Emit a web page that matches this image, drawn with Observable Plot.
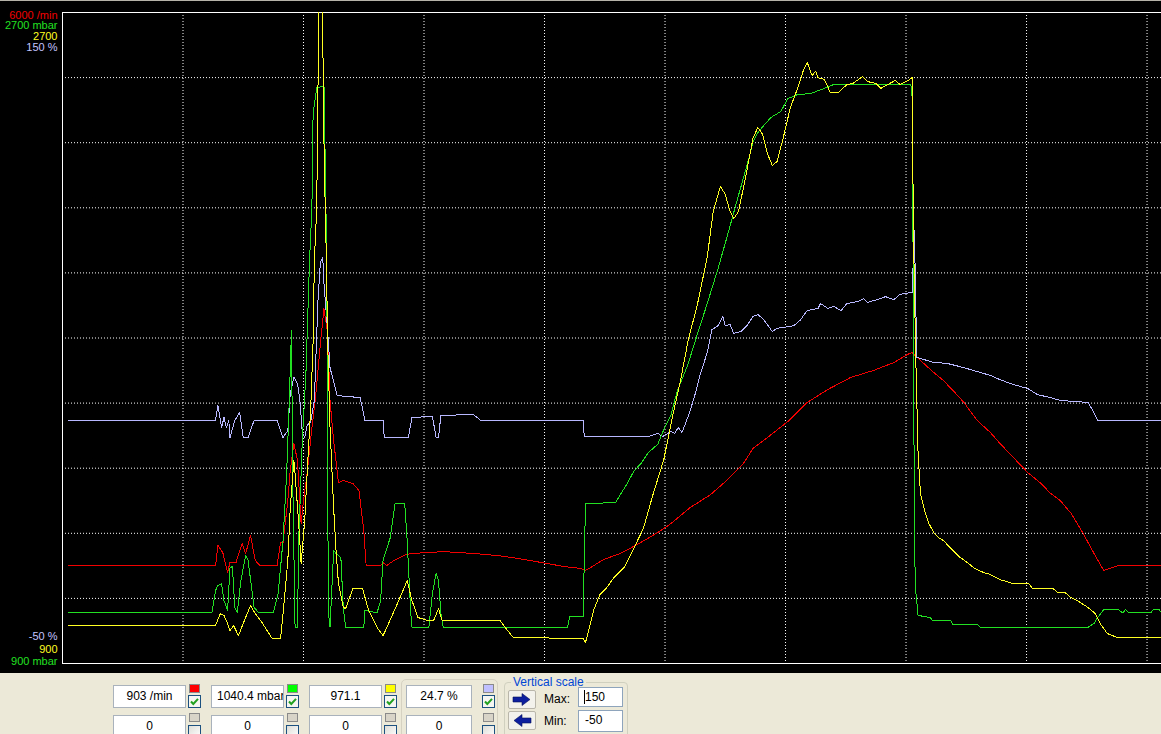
<!DOCTYPE html>
<html><head><meta charset="utf-8">
<script src="https://cdn.jsdelivr.net/npm/d3@7"></script>
<script src="https://cdn.jsdelivr.net/npm/@observablehq/plot@0.6"></script>
<style>
html,body{margin:0;padding:0;background:#ece9d8;width:1161px;height:734px;overflow:hidden;font-family:"Liberation Sans",Arial,sans-serif;}
#chart{position:absolute;left:0;top:0;width:1161px;height:673px;background:#000;}
#chart svg{display:block}
#topline{position:absolute;left:0;top:0;width:1161px;height:1px;background:#b5b2a8;}
.abs{position:absolute;box-sizing:border-box;}
.vbox{position:absolute;box-sizing:border-box;width:73px;height:23px;background:#fff;border:1px solid #a9b2bc;font-size:12px;line-height:21px;text-align:center;white-space:nowrap;overflow:hidden;color:#000;}
.sq{position:absolute;box-sizing:border-box;width:11px;height:9px;border:1px solid #8a8a8a;}
.cb{position:absolute;width:13px;height:13px;}
.lbl{position:absolute;font-size:12px;line-height:14px;color:#000;}
.btn{position:absolute;box-sizing:border-box;width:28px;height:19px;background:#f3f2ec;border:1px solid #b9b6aa;border-radius:2px;}
.inp{position:absolute;box-sizing:border-box;width:45px;background:#fff;border:1px solid #8ea4bc;font-size:12px;line-height:18px;padding-left:6px;color:#000;}
</style>
</head><body>
<div id="chart"></div>
<div id="topline"></div>
<div id="panel"></div>
<script>
// Time in seconds (one grid division = 10 s); values in each channel's own units
const xGrid = [10,20,30,40,50,60,70,80,90];
const yGridFractions = [0.1,0.2,0.3,0.4,0.5,0.6,0.7,0.8,0.9];

const topLabels = ["6000 /min","2700 mbar","2700","150 %"];
const bottomLabels = ["-50 %","900","900 mbar"];

// Engine speed, /min (scale 0..6000)
const rpm = [[0.5,900],[12.7,900],[12.9,1088],[13.3,1023],[13.7,839],[13.9,931],[14.4,931],[14.9,1106],[15.2,1014],[15.6,1180],[16.0,949],[16.4,900],[17.8,900],[18.1,1115],[18.3,1115],[18.7,1502],[18.9,1779],[19.2,2028],[19.5,1871],[19.8,1290],[20.0,1502],[20.3,1751],[20.7,2175],[21.0,2452],[21.4,2949],[21.7,3272],[22.0,3042],[22.2,2424],[22.5,2055],[22.9,1668],[23.3,1687],[24.1,1659],[24.6,1595],[25.0,1226],[25.2,900],[26.4,900],[26.6,931],[26.9,903],[27.5,949],[28.3,995],[28.9,1014],[30.5,1023],[31.6,1032],[32.8,1023],[34.1,1014],[36.1,995],[37.8,968],[38.8,949],[40.2,922],[41.6,894],[43.0,876],[43.4,857],[44.1,903],[44.9,959],[46.3,1014],[47.7,1097],[49.4,1207],[50.5,1290],[52.1,1438],[53.8,1558],[55.2,1696],[56.5,1843],[57.3,1982],[58.5,2083],[60.2,2231],[61.8,2406],[63.5,2525],[65.4,2636],[67.3,2701],[69.0,2774],[70.1,2848],[70.5,2866],[71.2,2793],[72.3,2682],[73.1,2608],[73.9,2516],[74.8,2406],[75.9,2240],[77.0,2129],[77.8,2028],[78.9,1899],[80.1,1760],[81.2,1659],[82.0,1567],[82.8,1502],[83.7,1383],[84.7,1198],[85.6,1014],[86.4,857],[87.6,903],[91.2,903]];

// Boost pressure, mbar (scale 900..2700)
const boost = [[0.5,1040],[12.4,1040],[12.7,1102],[12.9,1116],[13.2,1121],[13.4,1074],[13.7,1047],[13.9,1165],[14.1,1168],[14.3,1055],[14.5,1040],[14.8,1129],[15.2,1199],[15.4,1185],[15.9,1055],[16.3,1040],[17.5,1040],[17.9,1094],[18.3,1240],[18.6,1425],[18.8,1608],[19.0,1821],[19.1,1425],[19.3,1000],[19.5,1000],[19.6,1240],[19.9,1517],[20.2,1702],[20.5,2014],[20.7,2161],[20.75,2338],[20.8,2421],[21.1,2493],[21.7,2495],[21.75,2465],[21.8,2255],[21.9,2089],[22.0,1627],[22.05,1047],[22.2,1000],[22.5,1212],[22.7,1204],[23.1,1193],[23.3,1055],[23.5,1000],[25.0,1000],[25.1,1047],[26.1,1040],[26.4,1074],[26.6,1185],[27.2,1248],[27.6,1342],[28.4,1342],[28.6,1240],[28.9,1040],[29.0,1000],[30.4,1000],[30.7,1094],[31.0,1149],[31.2,1129],[31.4,1040],[31.6,1000],[41.9,1000],[42.1,1030],[43.2,1030],[43.4,1342],[45.9,1345],[46.3,1367],[46.9,1400],[47.4,1431],[48.0,1453],[48.6,1483],[49.4,1506],[49.9,1547],[50.5,1588],[51.0,1652],[51.9,1727],[52.7,1812],[53.5,1895],[54.4,1992],[55.2,2086],[56.0,2183],[56.8,2277],[57.3,2341],[57.7,2368],[58.2,2388],[58.8,2410],[59.6,2426],[60.2,2462],[61.0,2473],[62.1,2476],[63.2,2490],[64.0,2501],[70.4,2501],[70.5,2468],[70.6,1959],[70.7,1221],[70.8,1102],[71.0,1033],[72.0,1027],[72.2,1019],[73.7,1019],[73.9,1008],[75.9,1008],[76.2,1000],[85.1,1000],[85.6,1011],[85.9,1027],[86.4,1049],[87.6,1049],[88.0,1040],[88.2,1049],[88.5,1040],[90.3,1040],[90.5,1049],[91.0,1049],[91.2,1040]];

// Yellow channel (scale 900..2700)
const chan3 = [[0.5,1005],[12.7,1005],[13.1,1038],[13.4,1033],[13.7,1011],[13.9,991],[14.2,1005],[14.6,977],[15.0,1011],[15.6,1060],[16.0,1038],[16.6,1011],[17.4,969],[18.1,969],[18.3,1038],[18.7,1185],[18.9,1331],[19.2,1461],[19.3,1425],[19.6,1287],[19.8,1177],[20.1,1295],[20.3,1425],[20.6,1608],[20.8,1793],[20.9,2014],[21.1,2161],[21.15,2338],[21.2,2493],[21.25,2614],[21.3,2760],[21.5,2760],[21.6,2614],[21.65,2512],[21.7,2338],[21.75,2255],[21.8,2161],[21.9,2014],[22.0,1793],[22.2,1553],[22.5,1331],[22.7,1212],[22.9,1121],[23.3,1055],[23.5,1052],[24.1,1107],[24.9,1107],[25.4,1047],[26.1,1000],[26.6,977],[26.8,991],[27.8,1066],[28.6,1129],[29.0,1074],[29.5,1027],[30.3,1019],[30.8,1019],[31.2,1052],[31.5,1019],[36.3,1019],[36.8,997],[37.4,972],[43.2,969],[43.4,958],[43.7,997],[44.1,1049],[44.6,1091],[45.1,1107],[45.7,1135],[46.6,1165],[47.4,1218],[48.2,1273],[49.0,1367],[49.9,1464],[50.6,1580],[51.3,1685],[51.9,1790],[52.7,1895],[53.5,2023],[54.0,2150],[54.6,2219],[55.0,2197],[55.4,2150],[55.7,2130],[56.1,2150],[56.7,2247],[57.3,2352],[57.7,2382],[58.1,2363],[58.5,2310],[58.9,2277],[59.3,2288],[59.8,2352],[60.4,2437],[61.0,2490],[61.5,2542],[61.8,2562],[62.2,2526],[62.5,2537],[62.7,2520],[63.2,2515],[63.5,2495],[63.7,2479],[64.4,2479],[65.1,2501],[65.6,2504],[66.4,2523],[66.8,2509],[67.5,2504],[67.9,2490],[68.5,2501],[69.1,2512],[69.5,2501],[70.2,2512],[70.5,2520],[70.55,2382],[70.6,2119],[70.8,1757],[71.0,1481],[71.2,1370],[71.6,1315],[71.9,1287],[72.3,1262],[72.7,1248],[73.1,1240],[73.5,1226],[73.9,1212],[74.5,1193],[75.1,1179],[75.6,1165],[76.4,1152],[77.0,1146],[77.8,1132],[78.9,1121],[80.2,1121],[80.5,1107],[82.2,1107],[82.6,1096],[83.2,1096],[83.7,1082],[84.2,1074],[85.1,1055],[85.7,1038],[86.1,1011],[86.7,983],[87.6,971],[91.2,971]];

// Percent channel (scale -50..150 %)
const pct = [[0.5,24.7],[12.7,24.7],[12.9,29.3],[13.2,22.5],[13.4,25.6],[13.6,22.5],[13.8,24.7],[13.9,19.4],[14.3,24.7],[14.7,27.1],[15.0,19.4],[15.4,19.4],[15.9,24.7],[17.8,24.7],[18.3,19.4],[18.7,21.6],[18.9,32.9],[19.2,37.9],[19.5,36.0],[19.7,30.8],[19.9,21.0],[20.1,19.4],[20.3,23.1],[20.6,24.3],[20.9,30.8],[21.2,61.5],[21.4,73.2],[21.6,74.7],[21.7,66.7],[22.0,52.3],[22.2,40.9],[22.8,32.3],[24.7,31.7],[25.1,24.7],[26.6,24.7],[26.7,19.4],[28.7,19.4],[29.0,25.6],[30.7,25.9],[30.9,21.6],[31.0,19.4],[31.2,19.4],[31.4,26.2],[34.1,26.5],[34.7,24.7],[43.2,24.7],[43.3,19.7],[48.6,19.7],[49.4,20.7],[49.8,19.7],[50.5,21.3],[50.8,20.7],[51.1,22.5],[51.4,21.0],[51.7,23.7],[52.0,26.8],[52.4,31.4],[52.9,38.5],[53.5,45.5],[53.9,52.6],[54.4,53.8],[54.8,56.6],[55.0,53.8],[55.4,54.1],[55.7,51.4],[56.3,52.0],[56.8,53.8],[57.3,56.6],[57.7,57.2],[58.1,56.0],[58.5,54.1],[58.9,52.0],[59.3,53.0],[59.8,53.2],[60.7,53.8],[61.2,55.4],[61.8,58.4],[62.7,59.1],[62.9,60.6],[63.5,59.1],[64.0,59.7],[64.6,58.4],[65.1,60.6],[66.0,61.2],[66.5,62.1],[66.8,60.9],[67.6,61.8],[68.3,62.7],[69.0,61.8],[69.5,63.4],[70.4,64.0],[70.5,64.0],[70.7,83.0],[70.8,61.5],[70.9,44.0],[71.2,43.7],[72.3,42.5],[73.4,42.2],[74.8,40.9],[75.9,39.7],[77.0,38.5],[77.8,37.2],[78.9,35.7],[80.1,34.5],[80.9,32.6],[82.0,31.7],[82.8,30.8],[85.1,30.2],[85.5,27.7],[85.9,24.7],[91.2,24.7]];

// Readouts
const readouts = ["903 /min","1040.4 mbar","971.1","24.7 %"];
const secondRow = ["0","0","0","0"];
const scaleMax = "150", scaleMin = "-50";

// ---- drawing ----
const toFrac = {
  rpm: v => v / 6000,
  mbar: v => (v - 900) / 1800,
  pct: v => (v + 50) / 200
};
const rows = (arr, f) => arr.map(([t, v]) => ({t, y: f(v)}));

const C = {red:"#f20000", green:"#22e022", yellow:"#ffff22", blue:"#b8b8ff"};
const topColors = [C.red, C.green, C.yellow, "#c4c4ff"];
const topDy = [2.7, 13.3, 23.7, 34.7];
const botColors = ["#c4c4ff", C.yellow, C.green];
const botDy = [-27, -14, -2.3];

const lineOpts = (stroke) => ({x:"t", y:"y", stroke, strokeWidth:1, clip:true, shapeRendering:"crispEdges"});

const plot = Plot.plot({
  width: 1161, height: 673,
  marginLeft: 62, marginTop: 12, marginRight: 0, marginBottom: 10,
  style: {background:"#000", color:"#fff", fontFamily:"'Liberation Sans', Arial, sans-serif"},
  x: {domain:[0, 91.2], axis:null},
  y: {domain:[0, 1], axis:null},
  marks: [
    Plot.ruleX(xGrid, {stroke:"#fff", strokeDasharray:"1,2"}),
    Plot.ruleY(yGridFractions, {stroke:"#fff", strokeDasharray:"1,2"}),
    Plot.ruleX([0], {stroke:"#fff"}),
    Plot.ruleY([0, 1], {stroke:"#fff"}),
    Plot.line(rows(rpm, toFrac.rpm), lineOpts(C.red)),
    Plot.line(rows(pct, toFrac.pct), lineOpts(C.blue)),
    Plot.line(rows(boost, toFrac.mbar), lineOpts(C.green)),
    Plot.line(rows(chan3, toFrac.mbar), lineOpts(C.yellow)),
    ...topLabels.map((s, i) => Plot.text([s], {text: d => d, frameAnchor:"top-left", dx:-5, dy: topDy[i], textAnchor:"end", lineAnchor:"middle", fill: topColors[i], fontSize: 11})),
    ...bottomLabels.map((s, i) => Plot.text([s], {text: d => d, frameAnchor:"bottom-left", dx:-5, dy: botDy[i], textAnchor:"end", lineAnchor:"middle", fill: botColors[i], fontSize: 11}))
  ]
});
document.getElementById("chart").appendChild(plot);

// ---- bottom control panel ----
const panel = document.getElementById("panel");
const boxLefts = [113, 211, 309, 406];
const boxWidths = [73, 73, 73, 66];
const sqLefts = [189, 287, 385, 483];
const sqColors = ["#ff0000", "#00ff00", "#ffff00", "#c0c0ff"];
const checkSvg = `<svg width="13" height="13"><rect x="0.5" y="0.5" width="12" height="12" fill="#f6f6f2" stroke="#1c5180"/><path d="M3 6.5 L5.3 9 L10 3.8" stroke="#21a121" stroke-width="2" fill="none"/></svg>`;
const uncheckSvg = `<svg width="13" height="13"><defs><linearGradient id="ug" x1="0" y1="0" x2="1" y2="1"><stop offset="0" stop-color="#dcdcd6"/><stop offset="1" stop-color="#ffffff"/></linearGradient></defs><rect x="0.5" y="0.5" width="12" height="12" fill="url(#ug)" stroke="#1c5180"/></svg>`;
let html = "";
html += `<div class="abs" style="left:401px;top:679px;width:97px;height:70px;border:1px solid #d6d2c2;border-radius:5px;"></div>`;
readouts.forEach((txt, i) => {
  const align = i === 1 ? "text-align:left;padding-left:5px;" : "";
  html += `<div class="vbox" style="left:${boxLefts[i]}px;top:685px;width:${boxWidths[i]}px;${align}">${txt}</div>`;
  html += `<div class="sq" style="left:${sqLefts[i]}px;top:684px;background:${sqColors[i]}"></div>`;
  html += `<div class="cb" style="left:${sqLefts[i]-1}px;top:694px">${checkSvg}</div>`;
  html += `<div class="vbox" style="left:${boxLefts[i]}px;top:715px;width:${boxWidths[i]}px;">${secondRow[i]}</div>`;
  html += `<div class="sq" style="left:${sqLefts[i]}px;top:713px;background:#d8d4c8"></div>`;
  html += `<div class="cb" style="left:${sqLefts[i]-1}px;top:724px">${uncheckSvg}</div>`;
});
// Vertical scale group
html += `<div class="abs" style="left:504px;top:682px;width:124px;height:70px;border:1px solid #d0d0bf;border-radius:4px;"></div>`;
html += `<div class="lbl" style="left:511px;top:675px;background:#ece9d8;color:#0046d5;padding:0 2px;">Vertical scale</div>`;
const arrowR = `<svg width="26" height="17" style="display:block"><path d="M4 6 H13 V2.5 L21 8.5 L13 14.5 V11 H4 Z" fill="#0d1f9e" stroke="#05105a" stroke-width="0.6"/></svg>`;
const arrowL = `<svg width="26" height="17" style="display:block"><path d="M22 6 H13 V2.5 L5 8.5 L13 14.5 V11 H22 Z" fill="#0d1f9e" stroke="#05105a" stroke-width="0.6"/></svg>`;
html += `<div class="btn" style="left:508px;top:690px;">${arrowR}</div>`;
html += `<div class="btn" style="left:508px;top:711px;">${arrowL}</div>`;
html += `<div class="lbl" style="left:544px;top:692px;">Max:</div>`;
html += `<div class="lbl" style="left:544px;top:714px;">Min:</div>`;
html += `<div class="inp" style="left:578px;top:687px;height:20px;">${scaleMax}</div>`;
html += `<div class="abs" style="left:584px;top:690px;width:1px;height:14px;background:#000;"></div>`;
html += `<div class="inp" style="left:578px;top:710px;height:22px;">${scaleMin}</div>`;
panel.innerHTML = html;
</script>
</body></html>
